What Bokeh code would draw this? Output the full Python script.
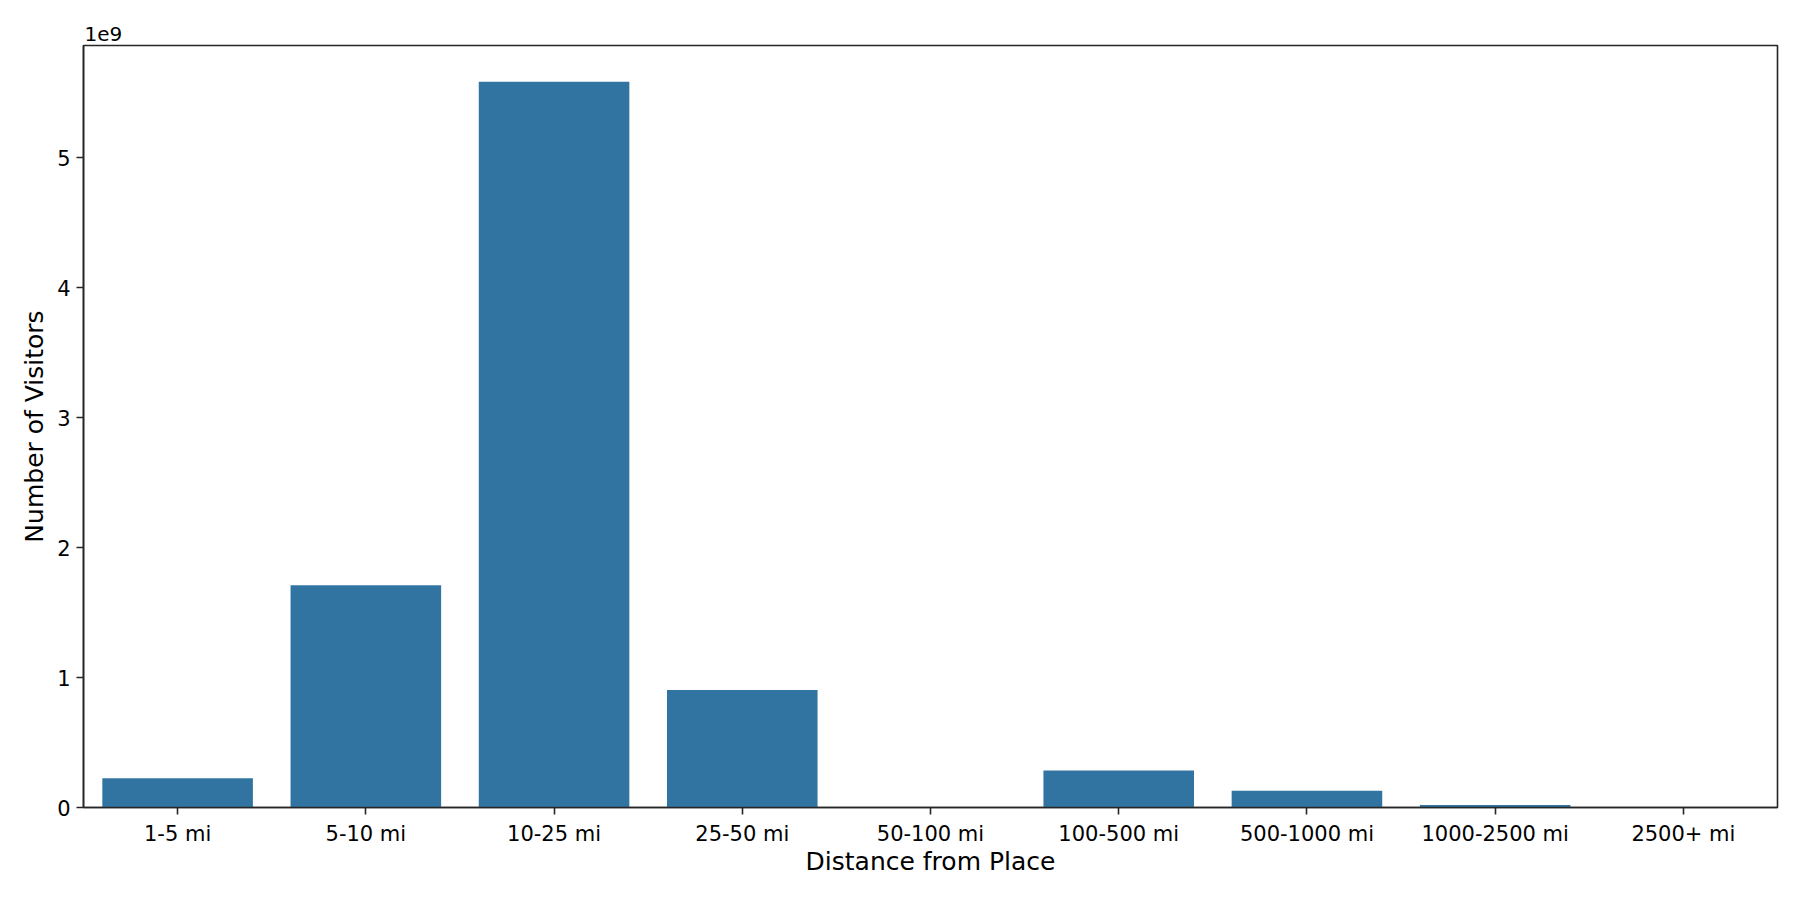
from bokeh.plotting import figure
from bokeh.models import FactorRange, Range1d, FixedTicker, CustomJSTickFormatter, ColumnDataSource
from bokeh.embed import file_html
from bokeh.resources import INLINE

categories = ["1-5 mi", "5-10 mi", "10-25 mi", "25-50 mi", "50-100 mi",
              "100-500 mi", "500-1000 mi", "1000-2500 mi", "2500+ mi"]
visitors = [0.225e9, 1.71e9, 5.585e9, 0.905e9, 0.004e9,
            0.285e9, 0.128e9, 0.020e9, 0.004e9]
y_ticks = [0, 1e9, 2e9, 3e9, 4e9, 5e9]

FONT = "DejaVu Sans"
BAR_COLOR = "#3274a1"

src = ColumnDataSource(dict(cat=categories, val=visitors))

ymax = max(visitors) * 1.05
p = figure(x_range=FactorRange(factors=categories, range_padding=0),
           y_range=Range1d(0, ymax),
           frame_width=1694, frame_height=762,
           min_border_left=83, min_border_right=8, min_border_top=45, min_border_bottom=80,
           output_backend="svg", toolbar_location=None, tools="")

p.vbar(x="cat", top="val", width=0.8, source=src, fill_color=BAR_COLOR, line_color=None)

p.title.text = "1e9"
p.title.align = "left"
p.title.text_font = FONT
p.title.text_font_size = "20px"
p.title.text_font_style = "normal"
p.title.text_color = "black"
p.title.standoff = 10
p.title.offset = 1

p.xgrid.grid_line_color = None
p.ygrid.grid_line_color = None
p.outline_line_color = "#262626"
p.outline_line_width = 1.6
p.background_fill_color = "white"
p.border_fill_color = "white"

p.yaxis.ticker = FixedTicker(ticks=y_ticks)
p.yaxis.formatter = CustomJSTickFormatter(code="return (tick/1e9).toFixed(0);")

for ax in (p.xaxis[0], p.yaxis[0]):
    ax.axis_line_color = "#262626"
    ax.axis_line_width = 1.6
    ax.major_tick_line_color = "#262626"
    ax.major_tick_line_width = 1.6
    ax.major_tick_out = 7
    ax.major_tick_in = 0
    ax.minor_tick_line_color = None
    ax.major_label_text_font = FONT
    ax.major_label_text_font_size = "21px"
    ax.major_label_text_color = "black"
    ax.axis_label_text_font = FONT
    ax.axis_label_text_font_size = "25px"
    ax.axis_label_text_font_style = "normal"
    ax.axis_label_text_color = "black"

p.xaxis.axis_label = "Distance from Place"
p.yaxis.axis_label = "Number of Visitors"
p.xaxis.major_label_standoff = 7
p.yaxis.major_label_standoff = 6
p.xaxis.axis_label_standoff = -2
p.yaxis.axis_label_standoff = 5

open("out.html", "w").write(file_html(p, INLINE))
